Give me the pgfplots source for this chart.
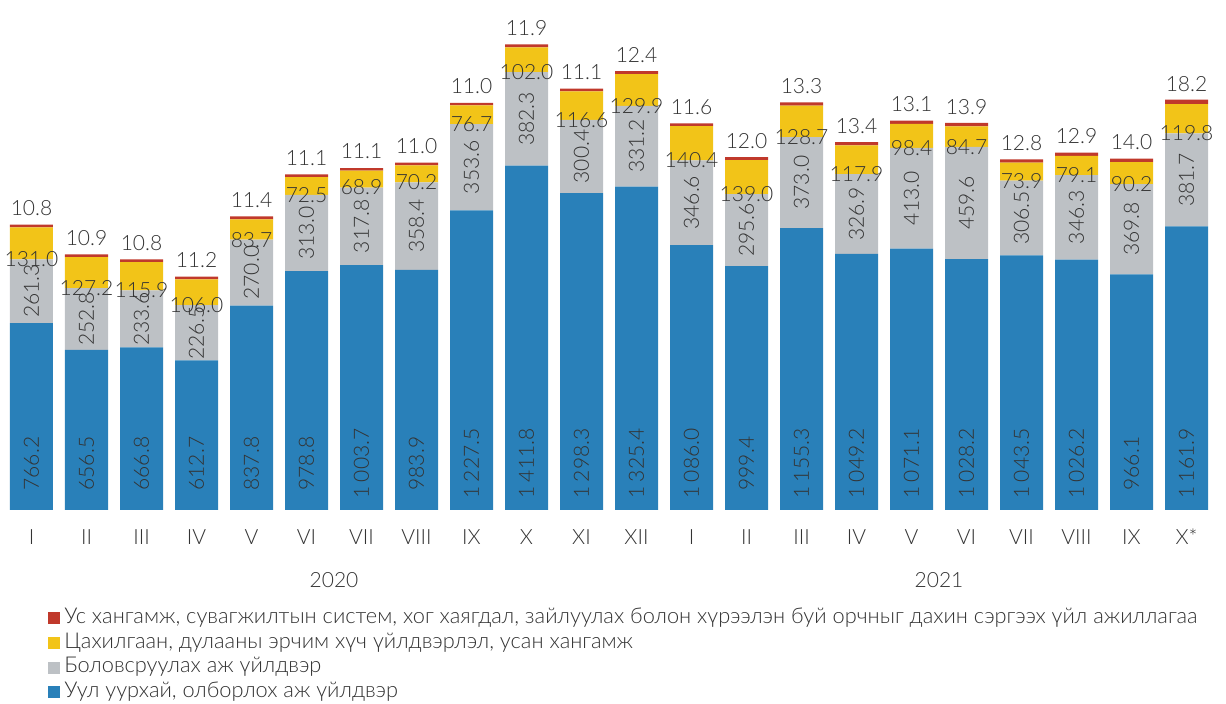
\documentclass[border=0pt]{standalone}
\usepackage{fontspec}
\setmainfont{Lato}[UprightFont={* Light}]
\usepackage{pgfplots}
\usepackage{pgfplotstable}
\pgfplotsset{compat=1.18}
\definecolor{cblue}{RGB}{41,128,185}
\definecolor{cgray}{RGB}{189,193,197}
\definecolor{cyellow}{RGB}{242,196,24}
\definecolor{cred}{RGB}{192,57,43}
\definecolor{ctext}{RGB}{51,51,51}
\pgfplotstableread{
x blue gray yellow red
0 766.2 261.3 131.0 10.8
1 656.5 252.8 127.2 10.9
2 666.8 233.6 115.9 10.8
3 612.7 226.5 106.0 11.2
4 837.8 270.0 83.7 11.4
5 978.8 313.0 72.5 11.1
6 1003.7 317.8 68.9 11.1
7 983.9 358.4 70.2 11.0
8 1227.5 353.6 76.7 11.0
9 1411.8 382.3 102.0 11.9
10 1298.3 300.4 116.6 11.1
11 1325.4 331.2 129.9 12.4
12 1086.0 346.6 140.4 11.6
13 999.4 295.6 139.0 12.0
14 1155.3 373.0 128.7 13.3
15 1049.2 326.9 117.9 13.4
16 1071.1 413.0 98.4 13.1
17 1028.2 459.6 84.7 13.9
18 1043.5 306.5 73.9 12.8
19 1026.2 346.3 79.1 12.9
20 966.1 369.8 90.2 14.0
21 1161.9 381.7 119.8 18.2
}\data
\newcommand{\lblfmt}{\pgfmathprintnumber[fixed,fixed zerofill,precision=1,1000 sep={\hspace{0.22em}},assume math mode=true]{\pgfplotspointmeta}}
\pgfplotsset{
  common/.style={
    at={(2pt,97pt)}, anchor=south west,
    x=27.5pt, y=0.122pt,
    xmin=-0.5, xmax=21.5, ymin=0, ymax=2000,
    enlargelimits=false, clip=false,
    axis line style={draw=none},
    tick style={draw=none},
    ytick=\empty,
  },
  lbl/.style={draw=none, mark=none, nodes near coords=\lblfmt,
    every node near coord/.append style={anchor=center, font=\fontsize{10.5}{12.6}\selectfont, text=ctext}},
}
\begin{document}
\fontsize{10.5}{12.6}\selectfont
\begin{tikzpicture}
\path[use as bounding box] (0,0) rectangle (613pt,352pt);
\begin{axis}[
  common,
  ybar stacked, bar width=21.5pt,
  xtick={0,...,21},
  xticklabels={I,II,III,IV,V,VI,VII,VIII,IX,X,XI,XII,I,II,III,IV,V,VI,VII,VIII,IX,X*},
  xticklabel style={anchor=center, yshift=-13.5pt, font=\fontsize{10.5}{12.6}\selectfont, text=ctext},
  point meta=rawy,
  legend style={draw=none, fill=none, at={(0.0364,-0.1988)}, anchor=north west,
    inner sep=0pt, row sep=1.6pt, font=\fontsize{10.9}{13}\selectfont, text=ctext,
    nodes={inner xsep=2pt, inner ysep=0pt, text height=8pt, text depth=2.75pt}},
  legend cell align=left,
  reverse legend,
  legend image code/.code={\fill[#1] (0pt,-3pt) rectangle (6pt,3pt);},
]
\addplot[fill=cblue, draw=none] table[x=x,y=blue]{\data};
\addlegendentry{Уул уурхай, олборлох аж үйлдвэр}
\addplot[fill=cgray, draw=none] table[x=x,y=gray]{\data};
\addlegendentry{Боловсруулах аж үйлдвэр}
\addplot[fill=cyellow, draw=none] table[x=x,y=yellow]{\data};
\addlegendentry{Цахилгаан, дулааны эрчим хүч үйлдвэрлэл, усан хангамж}
\addplot[fill=cred, draw=none, nodes near coords=\lblfmt,
  every node near coord/.append style={anchor=south, yshift=1.5pt, font=\fontsize{10.5}{12.6}\selectfont, text=ctext}]
  table[x=x,y=red]{\data};
\addlegendentry{Ус хангамж, сувагжилтын систем, хог хаягдал, зайлуулах болон хүрээлэн буй орчныг дахин сэргээх үйл ажиллагаа}
\node[text=ctext, font=\fontsize{10.5}{12.6}\selectfont] at ([yshift=-35pt]axis cs:5.5,0) {2020};
\node[text=ctext, font=\fontsize{10.5}{12.6}\selectfont] at ([yshift=-35pt]axis cs:16.5,0) {2021};
\end{axis}
\begin{axis}[common, xtick=\empty]
\addplot[lbl, point meta=\thisrow{blue}, every node near coord/.append style={rotate=90}]
  table[x=x, y expr=190]{\data};
\addplot[lbl, point meta=\thisrow{gray}, every node near coord/.append style={rotate=90}]
  table[x=x, y expr=\thisrow{blue}+0.5*\thisrow{gray}]{\data};
\addplot[lbl, point meta=\thisrow{yellow}]
  table[x=x, y expr=\thisrow{blue}+\thisrow{gray}]{\data};
\end{axis}
\end{tikzpicture}
\end{document}
